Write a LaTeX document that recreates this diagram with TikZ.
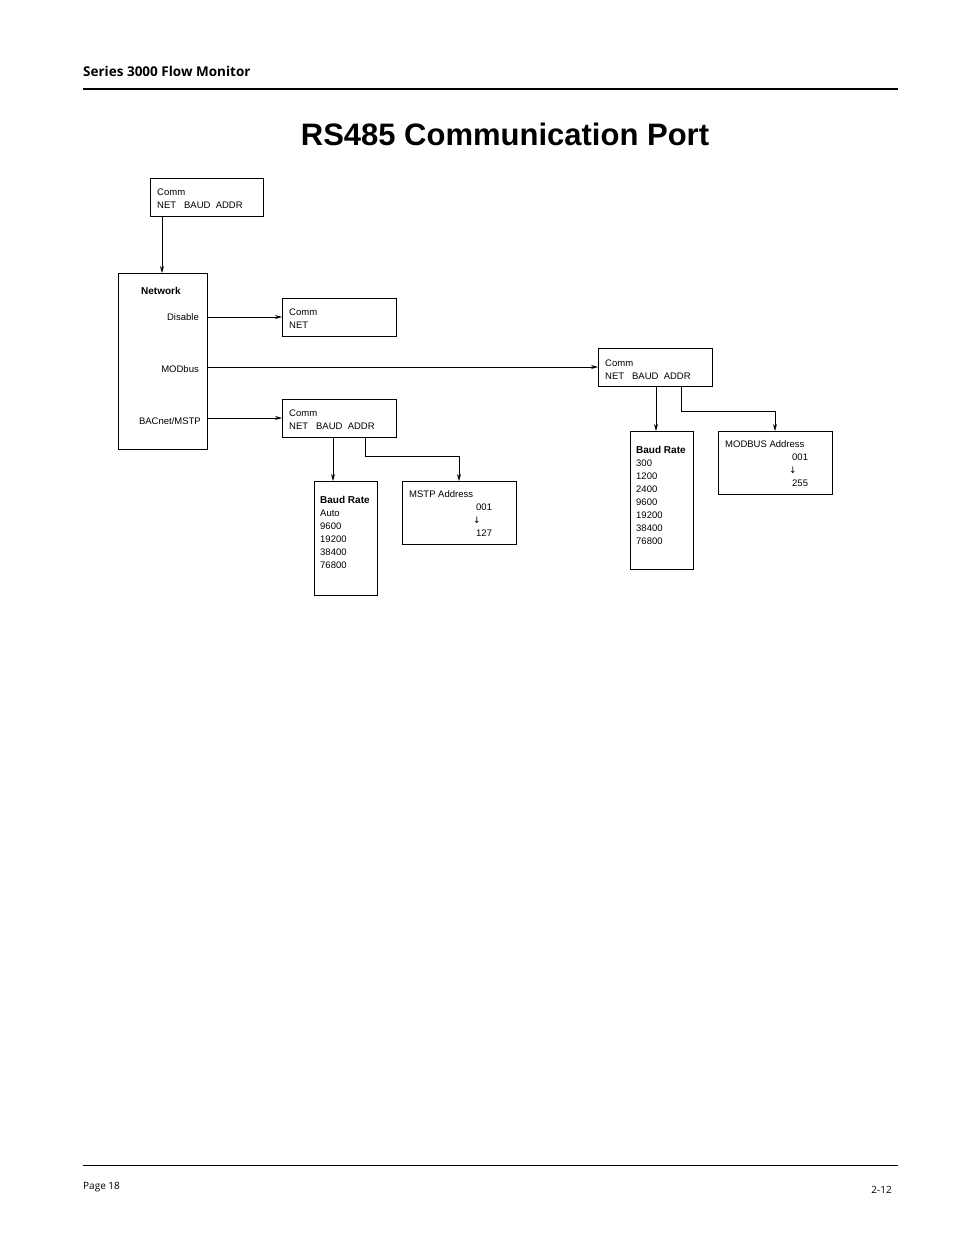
\documentclass[tikz,border=0pt]{standalone}
\usepackage{fontspec}
\setmainfont{Liberation Sans}
\newfontfamily\hdr{Open Sans}
\newfontfamily\djfont{DejaVu Sans}
\usetikzlibrary{arrows.meta}
\begin{document}
\begin{tikzpicture}[x=1pt,y=-1pt,
  bx/.style={draw,line width=0.8pt},
  t/.style={anchor=base west,inner sep=0,font=\fontsize{9.5}{11}\selectfont},
  tr/.style={anchor=base east,inner sep=0,font=\fontsize{9.5}{11}\selectfont},
  tb/.style={anchor=base west,inner sep=0,font=\fontsize{10}{11}\selectfont\bfseries},
  ar/.style={draw,line width=0.7pt,-{Stealth[length=7pt,width=4pt]}}]
\useasboundingbox (0,0) rectangle (954,1235);
% header/footer
\node[anchor=base west,inner sep=0,font=\hdr\bfseries\fontsize{13.5}{15}\selectfont] (hd) at (83,76) {Series 3000 Flow Monitor};
\draw[line width=1.5pt] (83,89) coordinate (h1) -- (898,89) coordinate (h2);
\draw[line width=0.7pt] (83,1165) coordinate (f1) -- (898,1165) coordinate (f2);
\node[anchor=base west,inner sep=0,font=\hdr\fontsize{10}{12}\selectfont] (pg) at (83,1189) {Page 18};
\node[anchor=base east,inner sep=0,font=\hdr\fontsize{10}{12}\selectfont] (pn) at (892,1193) {2-12};
\node[anchor=base,inner sep=0,font=\bfseries\fontsize{31}{34}\selectfont] (title) at (505,145) {RS485 Communication Port};
% boxes
\draw[bx] (150,178) rectangle (263,216);
\node[t] at (157,195) {Comm}; \node[t] at (157,208) {NET\ \ \ BAUD\ \ ADDR};
\draw[bx] (118,273) rectangle (207,449);
\node[tb] at (141,294) {Network};
\node[tr] (dis) at (199,320) {Disable};
\node[tr] (mod) at (199,372) {MODbus};
\node[tr] (bac) at (201,424) {BACnet/MSTP};
\draw[bx] (282,298) rectangle (396,336);
\node[t] at (289,315) {Comm}; \node[t] at (289,328) {NET};
\draw[bx] (598,348) rectangle (712,386);
\node[t] at (605,366) {Comm}; \node[t] at (605,379) {NET\ \ \ BAUD\ \ ADDR};
\draw[bx] (282,399) rectangle (396,437);
\node[t] at (289,416) {Comm}; \node[t] at (289,429) {NET\ \ \ BAUD\ \ ADDR};
\draw[bx] (314,481) rectangle (377,595);
\node[tb] at (320,503) {Baud Rate};
\foreach \s [count=\i] in {Auto,9600,19200,38400,76800} \node[t] at (320,503+13*\i) {\s};
\draw[bx] (402,481) rectangle (516,544);
\node[t] at (409,497) {MSTP Address}; \node[t] at (476,510) {001};
\node[t,font=\djfont\fontsize{9}{10}\selectfont] at (473,523) {↓}; \node[t] at (476,536) {127};
\draw[bx] (630,431) rectangle (693,569);
\node[tb] at (636,453) {Baud Rate};
\foreach \s [count=\i] in {300,1200,2400,9600,19200,38400,76800} \node[t] at (636,453+13*\i) {\s};
\draw[bx] (718,431) rectangle (832,494);
\node[t] at (725,447) {MODBUS Address}; \node[t] at (792,460) {001};
\node[t,font=\djfont\fontsize{9}{10}\selectfont] at (789,473) {↓}; \node[t] at (792,486) {255};
% connectors
\draw[ar] (162,216) -- (162,273);
\draw[ar] (207,317) -- (282,317);
\draw[ar] (207,367) -- (598,367);
\draw[ar] (207,418) -- (282,418);
\draw[ar] (333,437) -- (333,481);
\draw[ar] (365,437) -- (365,456) -- (459,456) -- (459,481);
\draw[ar] (656,386) -- (656,431);
\draw[ar] (681,386) -- (681,411) -- (775,411) -- (775,431);
\end{tikzpicture}
\end{document}
